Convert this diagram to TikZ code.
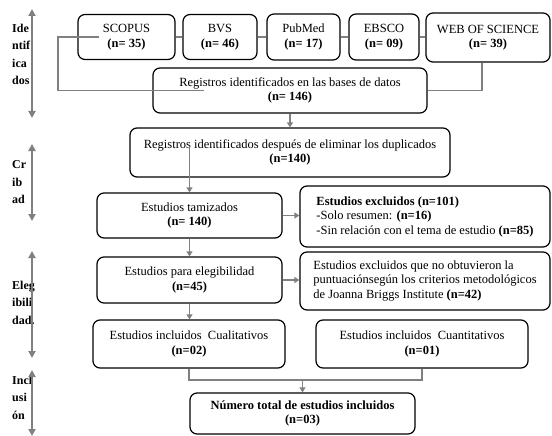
\documentclass[tikz,border=0pt]{standalone}
\usepackage{fontspec}
\setmainfont{Liberation Serif}
\usetikzlibrary{arrows.meta}
\newcommand{\boxfont}{\fontsize{12.5}{14.5}\selectfont}
\newcommand{\stagefont}{\bfseries\fontsize{12}{17.5}\selectfont}
\begin{document}
\begin{tikzpicture}[x=1pt, y=-1pt,
  box/.style={draw, rounded corners=7pt, line width=1.2pt, fill=white, align=center, inner sep=2pt, font=\boxfont},
  stage/.style={anchor=west, align=left, inner sep=0pt, font=\stagefont},
  conn/.style={draw=gray, line width=1.4pt},
  arr/.style={conn, -{Triangle[width=6pt,length=5pt]}},
  phase/.style={draw=gray, line width=2pt, {Triangle[width=7pt,length=7pt]}-{Triangle[width=7pt,length=7pt]}}]
  \useasboundingbox (0,0) rectangle (552,436);

  \node[box, minimum width=97pt, minimum height=45pt] (scopus) at (126.5,37) {SCOPUS\\ \textbf{(n= 35)}};
  \node[box, minimum width=74pt, minimum height=45pt] (bvs) at (220,37) {BVS\\ \textbf{(n= 46)}};
  \node[box, minimum width=73pt, minimum height=46pt] (pubmed) at (303.5,37) {PubMed\\ \textbf{(n= 17)}};
  \node[box, minimum width=70pt, minimum height=46pt] (ebsco) at (384,37) {EBSCO\\ \textbf{(n= 09)}};
  \node[box, minimum width=124pt, minimum height=49pt] (wos) at (488,37.5) {WEB OF SCIENCE\\ \textbf{(n= 39)}};
  \node[box, minimum width=274pt, minimum height=45pt] (bases) at (290,90.5) {Registros identificados en las bases de datos\\ \textbf{(n= 146)}};
  \node[box, minimum width=320pt, minimum height=49pt] (dup) at (290,152.5) {Registros identificados después de eliminar los duplicados\\ \textbf{(n=140)}};
  \node[box, minimum width=185pt, minimum height=45pt] (tam) at (189.5,215.5) {Estudios tamizados\\ \textbf{(n= 140)}};
  \node[box, minimum width=250pt, minimum height=61pt, align=left] (excl) at (425,216.5) {\textbf{Estudios excluidos (n=101)}\\ -Solo resumen: \textbf{(n=16)}\\ -Sin relación con el tema de estudio \textbf{(n=85)}};
  \node[box, minimum width=185pt, minimum height=46pt] (eleg) at (189.5,280) {Estudios para elegibilidad\\ \textbf{(n=45)}};
  \node[box, minimum width=250pt, minimum height=58pt, align=left] (excl2) at (425,281) {Estudios excluidos que no obtuvieron la\\ puntuaciónsegún los criterios metodológicos\\ de Joanna Briggs Institute \textbf{(n=42)}};
  \node[box, minimum width=192pt, minimum height=48pt] (cual) at (189,344) {Estudios incluidos\ \ Cualitativos\\ \textbf{(n=02)}};
  \node[box, minimum width=212pt, minimum height=48pt] (cuan) at (422,344) {Estudios incluidos\ \ Cuantitativos\\ \textbf{(n=01)}};
  \node[box, minimum width=225pt, minimum height=41pt] (total) at (302.5,413.5) {\textbf{Número total de estudios incluidos}\\ \textbf{(n=03)}};

  \coordinate (tl) at (58,37);
  \coordinate (bl) at (58,90.5);
  \coordinate (jn) at (302.5,380);
  \draw[conn] ([xshift=22pt]scopus.west) -- (tl) -- (bl) -- ([xshift=52pt]bases.west);
  \draw[conn] (scopus.east) -- (bvs.west);
  \draw[conn] (bvs.east) -- (pubmed.west);
  \draw[conn] (pubmed.east) -- (ebsco.west);
  \draw[conn] (ebsco.east) -- (ebsco.east -| wos.west);
  \draw[conn] ([xshift=-6pt]wos.south) |- (bases.east);
  \draw[arr] (bases.south) -- (dup.north);
  \draw[arr] ([yshift=7pt]dup.center -| tam.north) -- (tam.north);
  \draw[arr] (tam.east) -- (tam.east -| excl.west);
  \draw[arr] (tam.south) -- (eleg.north);
  \draw[arr] (eleg.east) -- (eleg.east -| excl2.west);
  \draw[arr] (eleg.south) -- (eleg.south |- cual.north);
  \draw[conn] (cual.south) |- (cuan.south |- jn) -- (cuan.south);
  \draw[arr] (jn) -- (total.north);

  \node[stage] (ident) at (12,54.5) {Ide\\ ntif\\ ica\\ dos};
  \node[stage] (crib) at (12,182.5) {Cr\\ ib\\ ad};
  \node[stage] (elegl) at (12,302.5) {Eleg\\ ibili\\ dad.};
  \node[stage] (incl) at (12,397.5) {Incl\\ usi\\ ón};

  \coordinate (i1) at (32,9);
  \coordinate (i2) at (32,118);
  \coordinate (c1) at (32,144);
  \coordinate (c2) at (32,221);
  \coordinate (e1) at (32,251);
  \coordinate (e2) at (32,358);
  \coordinate (n1) at (32,370);
  \coordinate (n2) at (32,436);
  \draw[phase] (i1) -- (i2);
  \draw[phase] (c1) -- (c2);
  \draw[phase] (e1) -- (e2);
  \draw[phase] (n1) -- (n2);
\end{tikzpicture}
\end{document}
